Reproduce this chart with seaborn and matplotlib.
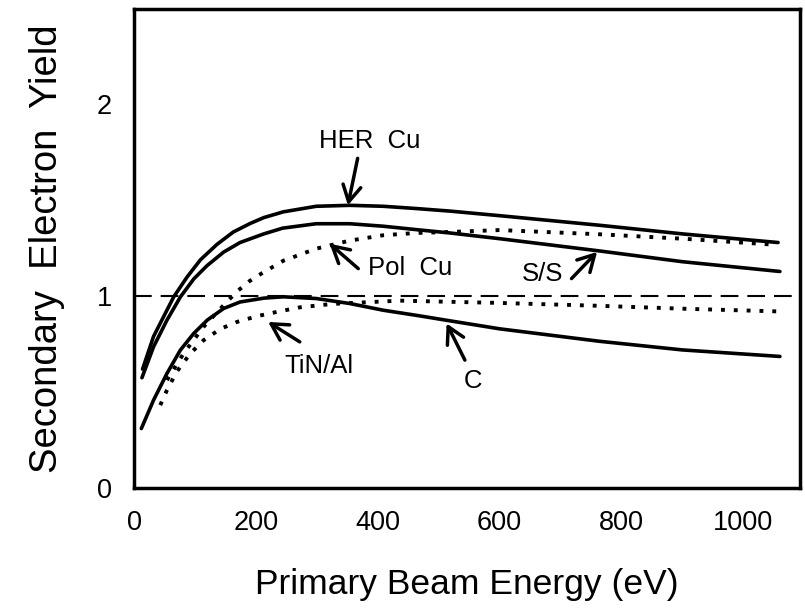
import matplotlib
matplotlib.use("Agg")
import pandas as pd
import seaborn as sns
import matplotlib.pyplot as plt

# Secondary electron yield curves
her_cu_x = [14, 32, 48, 65, 87, 109, 136, 163, 191, 213, 245, 299, 354, 409, 464, 518, 600, 764, 900, 1057]
her_cu_y = [0.62, 0.79, 0.89, 0.996, 1.10, 1.19, 1.27, 1.335, 1.38, 1.41, 1.44, 1.469, 1.474, 1.469, 1.457,
            1.444, 1.42, 1.37, 1.325, 1.28]

ss_x = [13, 32, 54, 76, 98, 120, 147, 174, 213, 244, 299, 354, 409, 464, 518, 600, 764, 900, 1060]
ss_y = [0.575, 0.736, 0.875, 0.996, 1.09, 1.16, 1.23, 1.28, 1.325, 1.355, 1.378, 1.378, 1.365, 1.347, 1.33,
        1.30, 1.236, 1.18, 1.129]

pol_cu_x = [54, 81, 114, 147, 169, 190, 210, 245, 299, 354, 409, 464, 518, 600, 764, 900, 1055]
pol_cu_y = [0.5625, 0.70, 0.84, 0.953, 1.025, 1.08, 1.12, 1.185, 1.248, 1.29, 1.318, 1.33, 1.335, 1.345,
            1.323, 1.30, 1.268]

c_x = [12, 32, 54, 76, 98, 120, 147, 174, 213, 245, 299, 354, 409, 464, 518, 600, 764, 900, 1060]
c_y = [0.31, 0.458, 0.597, 0.719, 0.806, 0.875, 0.936, 0.97, 0.99, 0.997, 0.988, 0.962, 0.927, 0.90, 0.872,
       0.83, 0.765, 0.72, 0.686]

tin_al_x = [43, 54, 70, 92, 114, 142, 169, 202, 234, 272, 326, 436, 600, 764, 900, 1055]
tin_al_y = [0.432, 0.51, 0.606, 0.70, 0.77, 0.83, 0.866, 0.896, 0.918, 0.942, 0.96, 0.977, 0.965, 0.95,
            0.935, 0.921]

unity_yield = 1.0

# label text, text position, arrow tail, arrow tip (data coords)
labels = ['HER  Cu', 'Pol  Cu', 'S/S', 'C', 'TiN/Al']
label_xy = [(387, 1.807), (453, 1.148), (670, 1.115), (557, 0.558), (303, 0.635)]
arrow_from = [(367, 1.719), (368, 1.144), (718, 1.092), (543, 0.667), (272, 0.762)]
arrow_to = [(351, 1.474), (321, 1.274), (760, 1.231), (513, 0.858), (220, 0.866)]

x_ticks = [0, 200, 400, 600, 800, 1000]
y_ticks = [0, 1, 2]


def make_df(pairs):
    frames = [pd.DataFrame({'energy': x, 'yield': y, 'sample': name}) for name, x, y in pairs]
    return pd.concat(frames, ignore_index=True)


solid_df = make_df([('HER Cu', her_cu_x, her_cu_y), ('S/S', ss_x, ss_y), ('C', c_x, c_y)])
dotted_df = make_df([('Pol Cu', pol_cu_x, pol_cu_y), ('TiN/Al', tin_al_x, tin_al_y)])

sns.set_style("white")
plt.rcParams['font.family'] = ['Liberation Sans', 'DejaVu Sans']
plt.rcParams.update({'text.color': 'black', 'axes.labelcolor': 'black',
                     'xtick.color': 'black', 'ytick.color': 'black'})

fig = plt.figure(figsize=(8.05, 6.11), dpi=100)
ax = fig.add_axes([0.1665, 0.2013, 0.8273, 0.7847])

sns.lineplot(data=solid_df, x='energy', y='yield', units='sample', estimator=None,
             color='black', linewidth=2.6, sort=False, legend=False, ax=ax)
sns.lineplot(data=dotted_df, x='energy', y='yield', units='sample', estimator=None,
             color='black', linewidth=2.8, sort=False, legend=False, ax=ax)
for line in ax.lines[-2:]:
    line.set_dashes((1, 2.3))

ax.axhline(unity_yield, color='black', linewidth=1.5, linestyle=(0, (8.5, 4.3)))

for text, txy, p0, p1 in zip(labels, label_xy, arrow_from, arrow_to):
    ax.annotate('', xy=p1, xytext=p0,
                arrowprops=dict(arrowstyle='->, head_length=0.45, head_width=0.25',
                                lw=2.5, color='black', shrinkA=0, shrinkB=0,
                                mutation_scale=26))
    ax.text(txy[0], txy[1], text, ha='center', va='center', fontsize=18.5)

ax.set_xlim(0, 1093)
ax.set_ylim(0, 2.5)
ax.set_xticks(x_ticks)
ax.set_yticks(y_ticks)
ax.tick_params(direction='in', length=7, width=2.5, labelsize=19.5, pad=16)

for spine in ax.spines.values():
    spine.set_visible(True)
    spine.set_linewidth(2.5)
    spine.set_color('black')

ax.set_xlabel('Primary Beam Energy (eV)', fontsize=25.5)
ax.set_ylabel('Secondary  Electron  Yield', fontsize=27.5)
ax.xaxis.set_label_coords(0.5, -0.167)
ax.yaxis.set_label_coords(-0.104, 0.5)

fig.savefig('out.png', dpi=100)
